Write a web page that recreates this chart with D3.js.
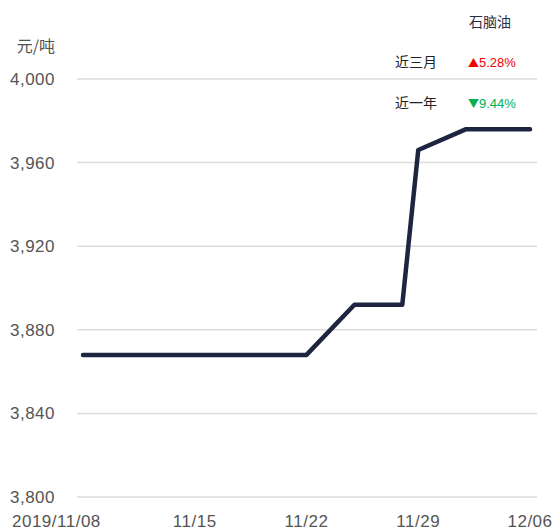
<!DOCTYPE html>
<html>
<head>
<meta charset="utf-8">
<script src="https://cdn.jsdelivr.net/npm/d3@7"></script>
<style>
  body { margin: 0; background: #fff; }
  text { font-family: "Liberation Sans", Arial, sans-serif; }
</style>
</head>
<body>
<div id="chart"></div>
<script>
var dates = ["2019-11-08","2019-11-11","2019-11-12","2019-11-13","2019-11-14","2019-11-15",
  "2019-11-18","2019-11-19","2019-11-20","2019-11-21","2019-11-22",
  "2019-11-25","2019-11-26","2019-11-27","2019-11-28","2019-11-29",
  "2019-12-02","2019-12-03","2019-12-04","2019-12-05","2019-12-06"];
var values = [3868,3868,3868,3868,3868,3868,3868,3868,3868,3868,3868,
  3892,3892,3892,3892,3966,3976,3976,3976,3976,3976];
var yTicks = [3800,3840,3880,3920,3960,4000];
var xTicks = ["2019-11-08","2019-11-15","2019-11-22","2019-11-29","2019-12-06"];
var xTickLabels = ["2019/11/08","11/15","11/22","11/29","12/06"];
var seriesName = "石脑油";
var unit = "元/吨";
var stats = [
  {label: "近三月", arrow: "▲", value: "5.28%", color: "#f00000"},
  {label: "近一年", arrow: "▼", value: "9.44%", color: "#00b050"}
];

var width = 553, height = 531;
var parse = d3.timeParse("%Y-%m-%d");

var svg = d3.select("#chart").append("svg")
    .attr("width", width)
    .attr("height", height);

var x = d3.scaleTime()
    .domain([parse(dates[0]), parse(dates[dates.length - 1])])
    .range([83, 530]);

var y = d3.scaleLinear()
    .domain([3800, 4000])
    .range([497, 79]);

// grid
svg.append("g").selectAll("line")
  .data(yTicks)
  .enter().append("line")
    .attr("x1", 77).attr("x2", 537)
    .attr("y1", function(d) { return y(d); })
    .attr("y2", function(d) { return y(d); })
    .attr("stroke", "#dcdcdc")
    .attr("stroke-width", 1.5);

// y labels
svg.append("g").selectAll("text")
  .data(yTicks)
  .enter().append("text")
    .attr("x", 55)
    .attr("y", function(d) { return y(d) + 6; })
    .attr("text-anchor", "end")
    .attr("font-size", 17)
    .attr("letter-spacing", 0.5)
    .attr("fill", "#555")
    .text(d3.format(","));

svg.append("text")
    .attr("x", 55).attr("y", 52)
    .attr("text-anchor", "end")
    .attr("font-size", 16)
    .attr("fill", "#555")
    .style("font-family", "'Noto Sans CJK SC', sans-serif")
    .text(unit);

// x labels
svg.append("g").selectAll("text")
  .data(xTicks)
  .enter().append("text")
    .attr("x", function(d, i) { return i === 0 ? 12 : x(parse(d)); })
    .attr("y", 527)
    .attr("text-anchor", function(d, i) { return i === 0 ? "start" : "middle"; })
    .attr("font-size", 17)
    .attr("letter-spacing", 0.5)
    .attr("fill", "#555")
    .text(function(d, i) { return xTickLabels[i]; });

// line
var line = d3.line()
    .x(function(d) { return x(parse(d.date)); })
    .y(function(d) { return y(d.value); });

var data = dates.map(function(d, i) { return {date: d, value: values[i]}; });

svg.append("path")
    .datum(data)
    .attr("d", line)
    .attr("fill", "none")
    .attr("stroke", "#1e2540")
    .attr("stroke-width", 4.5)
    .attr("stroke-linejoin", "round")
    .attr("stroke-linecap", "round");

// legend box
svg.append("text")
    .attr("x", 490).attr("y", 27)
    .attr("text-anchor", "middle")
    .attr("font-size", 14)
    .attr("fill", "#2a2f45")
    .style("font-family", "'Noto Sans CJK SC', sans-serif")
    .text(seriesName);

var rows = svg.append("g").selectAll("g")
  .data(stats)
  .enter().append("g")
    .attr("transform", function(d, i) { return "translate(0," + (67 + i * 41) + ")"; });

rows.append("text")
    .attr("x", 395)
    .attr("font-size", 14)
    .attr("fill", "#222")
    .style("font-family", "'Noto Sans CJK SC', sans-serif")
    .text(function(d) { return d.label; });

var val = rows.append("text")
    .attr("x", 468)
    .attr("font-size", 13)
    .attr("fill", function(d) { return d.color; });
val.append("tspan")
    .style("font-family", "'Noto Sans CJK SC', sans-serif")
    .attr("font-size", 11)
    .text(function(d) { return d.arrow; });
val.append("tspan")
    .text(function(d) { return d.value; });
</script>
</body>
</html>
